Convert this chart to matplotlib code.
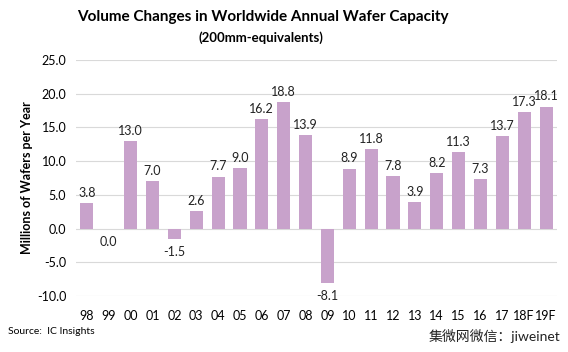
import matplotlib
matplotlib.use("Agg")
import matplotlib.pyplot as plt

plt.rcParams['font.family'] = ['Lato', 'Noto Sans CJK SC', 'DejaVu Sans']

years = ["98", "99", "00", "01", "02", "03", "04", "05", "06", "07", "08", "09",
         "10", "11", "12", "13", "14", "15", "16", "17", "18F", "19F"]
values = [3.8, -0.04, 13.0, 7.0, -1.5, 2.6, 7.7, 9.0, 16.2, 18.8, 13.9, -8.1,
          8.9, 11.8, 7.8, 3.9, 8.2, 11.3, 7.3, 13.7, 17.3, 18.1]
yticks = [25.0, 20.0, 15.0, 10.0, 5.0, 0.0, -5.0, -10.0]

fig = plt.figure(figsize=(5.68, 3.52), dpi=100)
ax = fig.add_axes([76/568, 1-296/352, (557-76)/568, (296-60)/352])

x = list(range(len(years)))
ax.bar(x, values, width=0.6, color="#C8A2CB", zorder=3)
for xi, v in zip(x, values):
    if v >= 0:
        ax.annotate(f"{v:.1f}", (xi, v), xytext=(0, 3), textcoords="offset points",
                    ha="center", va="bottom", fontsize=9, color="#222222")
    else:
        ax.annotate(f"{abs(v):.1f}" if abs(v) < 0.05 else f"{v:.1f}", (xi, v), xytext=(0, -5),
                    textcoords="offset points", ha="center", va="top", fontsize=9, color="#222222")

ax.set_ylim(-10, 25)
ax.set_xlim(-0.5, len(years) - 0.5)
ax.set_yticks(yticks)
ax.set_yticklabels([f"{t:.1f}" for t in yticks], fontsize=9)
ax.set_xticks(x)
ax.set_xticklabels(years, fontsize=9)
ax.tick_params(length=0, pad=7)
ax.tick_params(axis='x', pad=10)
ax.grid(axis='y', color="#D9D9D9", linewidth=0.8, zorder=0)
for s in ax.spines.values():
    s.set_visible(False)
ax.set_ylabel("Millions of Wafers per Year", fontsize=9, fontweight="bold", labelpad=3)

fig.text(0.463, 1-17/352, "Volume Changes in Worldwide Annual Wafer Capacity",
         ha="center", va="center", fontsize=11, fontweight="bold")
fig.text(0.46, 1-38/352, "(200mm-equivalents)", ha="center", va="center",
         fontsize=9.5, fontweight="bold")
fig.text(8/568, 1-331/352, "Source:  IC Insights", ha="left", va="center", fontsize=7.5)
fig.text(560/568, 1-336/352, "集微网微信：jiweinet", ha="right", va="center", fontsize=10,
         color="#222222")

fig.savefig("out.png", dpi=100)
